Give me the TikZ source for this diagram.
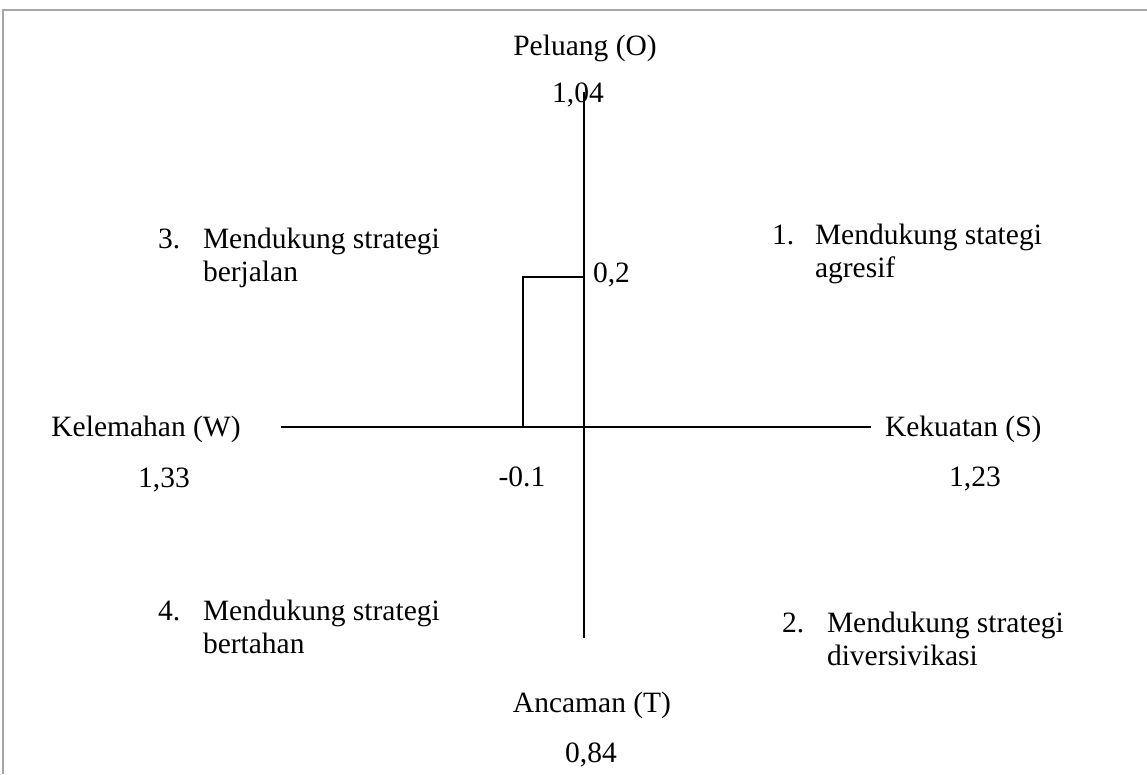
\documentclass[tikz,border=0pt]{standalone}
\usepackage{fontspec}
\setmainfont{Liberation Serif}
\usetikzlibrary{calc,positioning}
\tikzset{>=stealth}
\tikzset{lbl/.style={inner sep=0pt, outer sep=0pt, font=\fontsize{29.5}{33}\selectfont}}

\begin{document}
\begin{tikzpicture}[x=1pt, y=-1pt, line width=1.3pt]
\useasboundingbox (0,0) rectangle (1147,774);
\fill[white] (0,0) rectangle (1147,774);
\draw[gray!70, line width=2pt] (3,774) -- (3,10) -- (1147,10);
% axes
\coordinate (axN) at (584,92);
\coordinate (axS) at (584,638);
\coordinate (axW) at (281,427);
\coordinate (axE) at (871,427);
\draw (axN) -- (axS);
\draw (axW) -- (axE);
% titik posisi
\coordinate (pa) at (523,427);
\coordinate (pb) at (523,277);
\coordinate (pc) at (584,277);
\draw (pa) -- (pb) -- (pc);
% axis labels
\node[lbl, anchor=base] (peluang) at (585,55) {Peluang (O)};
\node[lbl, anchor=base] (vo) at (578,102) {1,04};
\node[lbl, anchor=base west] (vy) at (593,282) {0,2};
\node[lbl, anchor=base] (kelemahan) at (146,436) {Kelemahan (W)};
\node[lbl, anchor=base] (vw) at (164,487) {1,33};
\node[lbl, anchor=base] (vx) at (522,486) {-0.1};
\node[lbl, anchor=base west] (kekuatan) at (885,436) {Kekuatan (S)};
\node[lbl, anchor=base] (vs) at (975,486) {1,23};
\node[lbl, anchor=base] (ancaman) at (592,712) {Ancaman (T)};
\node[lbl, anchor=base] (vt) at (591,762) {0,84};
% kuadran
\node[lbl, anchor=base west] (q1n) at (772,244) {1.};
\node[lbl, anchor=base west] (q1a) at (815,244) {Mendukung stategi};
\node[lbl, anchor=base west] (q1b) at ($(q1a.base west)+(0,33)$) {agresif};
\node[lbl, anchor=base west] (q2n) at (782,632) {2.};
\node[lbl, anchor=base west] (q2a) at (827,632) {Mendukung strategi};
\node[lbl, anchor=base west] (q2b) at ($(q2a.base west)+(0,33)$) {diversivikasi};
\node[lbl, anchor=base west] (q3n) at (158,248) {3.};
\node[lbl, anchor=base west] (q3a) at (203,248) {Mendukung strategi};
\node[lbl, anchor=base west] (q3b) at ($(q3a.base west)+(0,33)$) {berjalan};
\node[lbl, anchor=base west] (q4n) at (158,620) {4.};
\node[lbl, anchor=base west] (q4a) at (203,620) {Mendukung strategi};
\node[lbl, anchor=base west] (q4b) at ($(q4a.base west)+(0,33)$) {bertahan};
\end{tikzpicture}
\end{document}
